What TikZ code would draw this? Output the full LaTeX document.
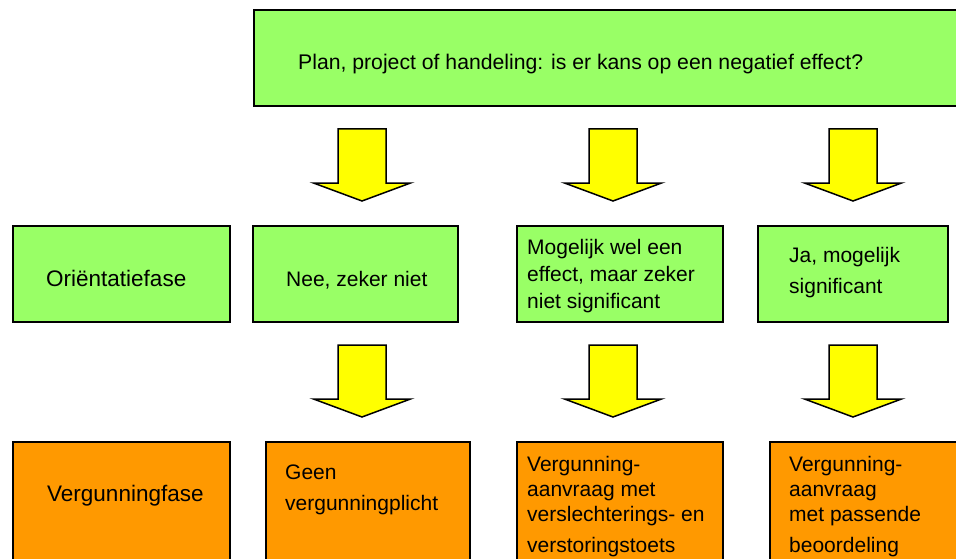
\documentclass[tikz,border=0pt]{standalone}
\usepackage{fontspec}
\setmainfont{Liberation Sans}
\usetikzlibrary{positioning}
\definecolor{boxgreen}{HTML}{99FF66}
\definecolor{boxorange}{HTML}{FF9900}
\definecolor{arrowyellow}{HTML}{FFFF00}
\tikzset{
  phasebox/.style={draw=black,line width=1.5pt,rectangle,inner sep=0pt},
  greenbox/.style={phasebox,fill=boxgreen,minimum height=96pt},
  orangebox/.style={phasebox,fill=boxorange,minimum height=150pt},
  boxtext/.style={anchor=west,align=left,inner sep=0pt,font=\fontsize{21}{25}\selectfont},
  phasetext/.style={boxtext,font=\fontsize{22.5}{26}\selectfont},
  blockarrow/.style={draw=black,line width=1.5pt,fill=arrowyellow,line join=miter}
}
\begin{document}
\begin{tikzpicture}[x=1pt,y=-1pt]
  \clip (0,0) rectangle (956,559);
  \fill[white] (0,0) rectangle (956,559);
  % top question
  \node[greenbox,minimum width=703pt] (plan) at (605.5,58) {};
  \node[boxtext,font=\fontsize{21.2}{25}\selectfont] (plantext) at (298,64) {Plan, project of handeling: is er kans op een negatief effect?};
  % block arrows
  \foreach \cx/\ty in {362/129,613/129,853/129,362/345,613/345,853/345} {
    \draw[blockarrow] (\cx-24,\ty) -- (\cx+24,\ty) -- (\cx+24,\ty+54) -- (\cx+48.5,\ty+54)
      -- (\cx,\ty+72) -- (\cx-48.5,\ty+54) -- (\cx-24,\ty+54) -- cycle;
  }
  % orientation phase
  \node[greenbox,minimum width=217pt] (orient) at (121.5,274) {};
  \node[greenbox,minimum width=205pt] (nee) at (355.5,274) {};
  \node[greenbox,minimum width=206pt] (mogelijk) at (620,274) {};
  \node[greenbox,minimum width=190pt] (ja) at (853,274) {};
  \node[phasetext] (orienttext) at (46,278) {Oriëntatiefase};
  \node[boxtext] (neetext) at (286,280.5) {Nee, zeker niet};
  \node[boxtext] (mogelijktext) at (527,276.5) {Mogelijk wel een\\[2pt]effect, maar zeker\\[2pt]niet significant};
  \node[boxtext] (jatext) at (789,273) {Ja, mogelijk\\[6pt]significant};
  % permit phase
  \node[orangebox,minimum width=217pt] (vfase) at (121.5,517) {};
  \node[orangebox,minimum width=204pt] (geen) at (368,517) {};
  \node[orangebox,minimum width=206pt] (toets) at (620,517) {};
  \node[orangebox,minimum width=210pt] (passend) at (875,517) {};
  \node[phasetext] (vfasetext) at (47,495.5) {Vergunningfase};
  \node[boxtext] (geentext) at (285,489.5) {Geen\\[6pt]vergunningplicht};
  \node[boxtext] (toetstext) at (527,507) {Vergunning-\\aanvraag met\\verslechterings- en\\[6pt]verstoringstoets};
  \node[boxtext] (passendtext) at (789,507) {Vergunning-\\aanvraag\\met passende\\[6pt]beoordeling};
\end{tikzpicture}
\end{document}
